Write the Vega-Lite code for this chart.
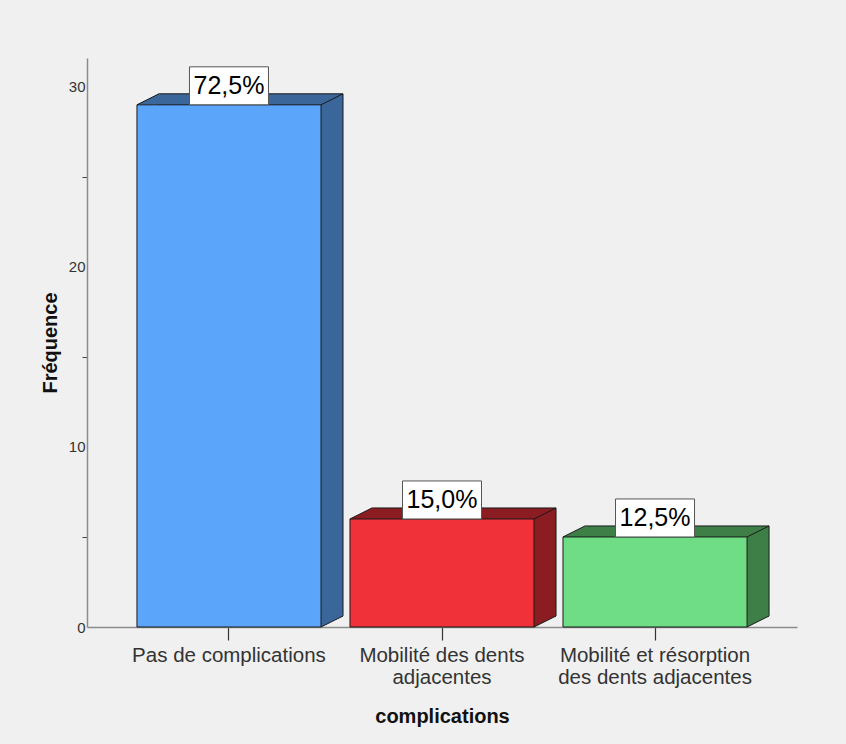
{
  "$schema": "https://vega.github.io/schema/vega-lite/v6.json",
  "width": 710,
  "height": 569,
  "autosize": {"type": "none"},
  "padding": {"left": 87, "top": 58, "right": 49, "bottom": 117},
  "background": "#f0f0f0",
  "config": {"view": {"stroke": null}, "font": "Liberation Sans"},
  "data": {
    "values": [
      {"complication": "Pas de complications", "n": 29, "pct": "72,5%"},
      {"complication": "Mobilité des dents adjacentes", "n": 6, "pct": "15,0%"},
      {"complication": "Mobilité et résorption des dents adjacentes", "n": 5, "pct": "12,5%"}
    ]
  },
  "encoding": {
    "x": {
      "field": "complication",
      "type": "nominal",
      "sort": null,
      "title": "complications",
      "scale": {"paddingInner": 0.136, "paddingOuter": 0.2345},
      "axis": {
        "labelAngle": 0,
        "labelExpr": "datum.value == 'Mobilité des dents adjacentes' ? ['Mobilité des dents', 'adjacentes'] : datum.value == 'Mobilité et résorption des dents adjacentes' ? ['Mobilité et résorption', 'des dents adjacentes'] : datum.label",
        "labelLimit": 400,
        "labelFontSize": 20.5,
        "labelLineHeight": 22,
        "labelColor": "#333333",
        "labelPadding": 5,
        "tickSize": 13,
        "tickColor": "#333333",
        "tickWidth": 1.2,
        "domainColor": "#8c8c8c",
        "domainWidth": 1.5,
        "titleFontSize": 20,
        "titleFontWeight": "bold",
        "titleColor": "#111111",
        "titlePadding": 19
      }
    },
    "y": {
      "field": "n",
      "type": "quantitative",
      "title": "Fréquence",
      "scale": {"domain": [0, 31.6], "nice": false},
      "axis": {
        "values": [0, 5, 10, 15, 20, 25, 30],
        "labelExpr": "datum.value % 10 === 0 ? datum.label : ''",
        "tickOpacity": {"condition": {"test": "datum.value % 10 === 0", "value": 0}, "value": 1},
        "tickSize": 5,
        "tickColor": "#444444",
        "labelPadding": -3,
        "labelFontSize": 15,
        "labelColor": "#333333",
        "domainColor": "#8c8c8c",
        "domainWidth": 1.5,
        "grid": false,
        "titleFontSize": 20,
        "titleFontWeight": "bold",
        "titleColor": "#111111",
        "titlePadding": 8
      }
    }
  },
  "layer": [
    {
      "mark": {"type": "bar", "xOffset": 22, "x2Offset": 22, "yOffset": -11, "y2Offset": -11, "stroke": "#1a1a1a", "strokeWidth": 1},
      "encoding": {
        "fill": {"field": "complication", "type": "nominal", "sort": null, "legend": null,
          "scale": {"range": ["#3a6699", "#8b1c21", "#3e7f48"]}}
      }
    },
    {
      "mark": {"type": "point", "shape": "M -1 0.5 L 1 -0.5 L 1.12 -0.5 L 1.12 0.5 Z", "size": 484, "filled": true, "opacity": 1, "strokeWidth": 0, "xOffset": 11, "yOffset": -5.5},
      "encoding": {
        "x": {"field": "complication", "type": "nominal", "sort": null, "bandPosition": 0},
        "fill": {"field": "complication", "type": "nominal", "sort": null, "legend": null}
      }
    },
    {
      "mark": {"type": "point", "shape": "M -1 0.5 L -1 -0.62 L 1 -0.62 L 1 -0.5 Z", "size": 484, "filled": true, "opacity": 1, "strokeWidth": 0, "xOffset": 11, "yOffset": -5.5},
      "encoding": {
        "x": {"field": "complication", "type": "nominal", "sort": null, "bandPosition": 1},
        "y": {"datum": 0},
        "fill": {"field": "complication", "type": "nominal", "sort": null, "legend": null}
      }
    },
    {
      "mark": {"type": "bar", "stroke": "#1a1a1a", "strokeWidth": 1},
      "encoding": {
        "color": {"field": "complication", "type": "nominal", "sort": null, "legend": null,
          "scale": {"range": ["#5ba5fb", "#f03139", "#6fdd85"]}}
      }
    },
    {
      "mark": {"type": "point", "shape": "M -1 0.5 L 1 -0.5", "size": 484, "filled": false, "opacity": 1, "color": "#1a1a1a", "strokeWidth": 1, "xOffset": 11, "yOffset": -5.5},
      "encoding": {
        "x": {"field": "complication", "type": "nominal", "sort": null, "bandPosition": 0}
      }
    },
    {
      "mark": {"type": "point", "shape": "M -1 0.5 L 1 -0.5", "size": 484, "filled": false, "opacity": 1, "color": "#1a1a1a", "strokeWidth": 1, "xOffset": 11, "yOffset": -5.5},
      "encoding": {
        "x": {"field": "complication", "type": "nominal", "sort": null, "bandPosition": 1}
      }
    },
    {
      "mark": {"type": "point", "shape": "M -1 0.5 L 1 -0.5", "size": 484, "filled": false, "opacity": 1, "color": "#1a1a1a", "strokeWidth": 1, "xOffset": 11, "yOffset": -5.5},
      "encoding": {
        "x": {"field": "complication", "type": "nominal", "sort": null, "bandPosition": 1},
        "y": {"datum": 0}
      }
    },
    {
      "mark": {"type": "bar", "width": 79, "y2Offset": -38, "fill": "#ffffff", "stroke": "#555555", "strokeWidth": 1},
      "encoding": {
        "y2": {"field": "n"}
      }
    },
    {
      "mark": {"type": "text", "baseline": "middle", "dy": -19, "fontSize": 25, "color": "#000000"},
      "encoding": {
        "text": {"field": "pct", "type": "nominal"}
      }
    }
  ]
}
